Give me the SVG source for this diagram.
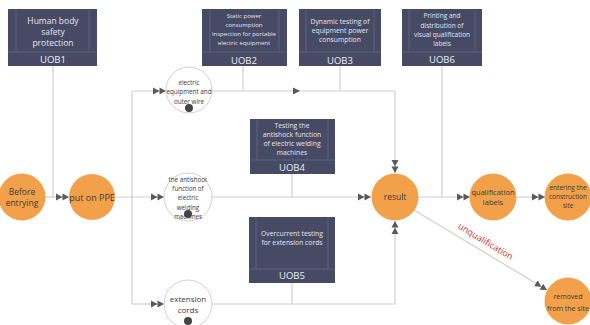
<svg xmlns="http://www.w3.org/2000/svg" width="590" height="325" viewBox="0 0 590 325">
<defs>
<style>
.box{fill:#474a65;}
.inner{stroke:#5d6180;stroke-width:1;fill:none;}
.btxt{font-family:"Open Sans",sans-serif;fill:#e4e5ee;text-anchor:middle;}
.lbl{font-family:"Open Sans",sans-serif;fill:#eceef5;font-size:9.5px;text-anchor:middle;}
.ln{stroke:#cfcfcf;stroke-width:1.2;fill:none;}
.org{fill:#f2a14a;}
.wc{fill:#fff;stroke:#cfcfcf;stroke-width:1;}
.ctxt{font-family:"Open Sans",sans-serif;fill:#3a3a3a;text-anchor:middle;}
.dot{fill:#444;}
</style>
<marker id="dbl" markerUnits="userSpaceOnUse" viewBox="0 0 13 8" refX="13" refY="4" markerWidth="13" markerHeight="8" orient="auto">
<path d="M0,0.5 L6.5,4 L0,7.5 Z M6.5,0.5 L13,4 L6.5,7.5 Z" fill="#5a5a5a"/>
</marker>
</defs>

<g id="connectors">
<path class="ln" d="M53,66 V197"/>
<path class="ln" d="M45,197 H69" marker-end="url(#dbl)"/>
<path class="ln" d="M115,197 H164" marker-end="url(#dbl)"/>
<path class="ln" d="M132,91 V304"/>
<path class="ln" d="M132,91 H166" marker-end="url(#dbl)"/>
<path class="ln" d="M132,304 H164" marker-end="url(#dbl)"/>
<path class="ln" d="M212,91 H395 V173" marker-end="url(#dbl)"/>
<polygon points="293,87.5 300,91 293,94.5" fill="#5a5a5a"/>
<path class="ln" d="M243,66 V91"/>
<path class="ln" d="M340,66 V91"/>
<path class="ln" d="M212,197 H371" marker-end="url(#dbl)"/>
<path class="ln" d="M292,174 V197"/>
<path class="ln" d="M212,304 H395 V221" marker-end="url(#dbl)"/>
<path class="ln" d="M292,283 V304"/>
<path class="ln" d="M418,197 H470" marker-end="url(#dbl)"/>
<path class="ln" d="M442,66 V197"/>
<path class="ln" d="M517,197 H545" marker-end="url(#dbl)"/>
<path class="ln" d="M414,210 L547,290" marker-end="url(#dbl)"/>
<text x="484" y="244" transform="rotate(31 484 244)" font-family="Open Sans, sans-serif" font-size="9" fill="#d42a30" text-anchor="middle">unqualification</text>
</g>

<g id="UOB1">
<rect class="box" x="8" y="9" width="89" height="57"/>
<path class="inner" d="M16,9 V52 M89,9 V52"/>
<path d="M8,52 H97" stroke="#5d6180"/>
<text class="btxt" font-size="8.5" x="53" y="24">Human body</text>
<text class="btxt" font-size="8.5" x="53" y="35">safety</text>
<text class="btxt" font-size="8.5" x="53" y="46">protection</text>
<text class="lbl" x="53" y="63">UOB1</text>
</g>

<g id="UOB2">
<rect class="box" x="202" y="9" width="85" height="57"/>
<path class="inner" d="M210,9 V52 M279,9 V52"/>
<path d="M202,52 H287" stroke="#5d6180"/>
<text class="btxt" font-size="6" x="244" y="18">Static power</text>
<text class="btxt" font-size="6" x="244" y="27">consumption</text>
<text class="btxt" font-size="6" x="244" y="36">inspection for portable</text>
<text class="btxt" font-size="6" x="244" y="45">electric equipment</text>
<text class="lbl" x="244" y="64">UOB2</text>
</g>

<g id="UOB3">
<rect class="box" x="299" y="9" width="82" height="57"/>
<path class="inner" d="M306,9 V52 M374,9 V52"/>
<path d="M299,52 H381" stroke="#5d6180"/>
<text class="btxt" font-size="6.8" x="340" y="24">Dynamic testing of</text>
<text class="btxt" font-size="6.8" x="340" y="33">equipment power</text>
<text class="btxt" font-size="6.8" x="340" y="42">consumption</text>
<text class="lbl" x="340" y="64">UOB3</text>
</g>

<g id="UOB6">
<rect class="box" x="402" y="9" width="80" height="57"/>
<path class="inner" d="M409,9 V52 M475,9 V52"/>
<path d="M402,52 H482" stroke="#5d6180"/>
<text class="btxt" font-size="6.5" x="442" y="18">Printing and</text>
<text class="btxt" font-size="6.5" x="442" y="28">distribution of</text>
<text class="btxt" font-size="6.5" x="442" y="37">visual qualification</text>
<text class="btxt" font-size="6.5" x="442" y="46">labels</text>
<text class="lbl" x="442" y="63">UOB6</text>
</g>

<g id="UOB4">
<rect class="box" x="250" y="119" width="85" height="55"/>
<path class="inner" d="M257,119 V160 M328,119 V160"/>
<path d="M250,160 H335" stroke="#5d6180"/>
<text class="btxt" font-size="6.8" x="292" y="128">Testing the</text>
<text class="btxt" font-size="6.8" x="292" y="137">antishock function</text>
<text class="btxt" font-size="6.8" x="292" y="146">of electric welding</text>
<text class="btxt" font-size="6.8" x="292" y="155">machines</text>
<text class="lbl" x="292" y="171">UOB4</text>
</g>

<g id="UOB5">
<rect class="box" x="249" y="217" width="86" height="66"/>
<path class="inner" d="M256,217 V269 M328,217 V269"/>
<path d="M249,269 H335" stroke="#5d6180"/>
<text class="btxt" font-size="6.8" x="292" y="236">Overcurrent testing</text>
<text class="btxt" font-size="6.8" x="292" y="245">for extension cords</text>
<text class="lbl" x="292" y="279">UOB5</text>
</g>

<g id="before">
<circle class="org" cx="22" cy="197" r="23.5"/>
<text class="ctxt" font-size="8.5" x="22" y="195">Before</text>
<text class="ctxt" font-size="8.5" x="22" y="206">entrying</text>
</g>

<g id="ppe">
<circle class="org" cx="92" cy="197" r="23"/>
<text class="ctxt" font-size="9" x="92" y="201">put on PPE</text>
</g>

<g id="electric">
<circle class="wc" cx="189" cy="90" r="23"/>
<text class="ctxt" font-size="6.3" x="189" y="85">electric</text>
<text class="ctxt" font-size="6.3" x="189" y="94">equipment and</text>
<text class="ctxt" font-size="6.3" x="189" y="104">outer wire</text>
<circle class="dot" cx="189" cy="108" r="4"/>
</g>

<g id="antishock">
<circle class="wc" cx="188" cy="197" r="24"/>
<text class="ctxt" font-size="6.2" x="188" y="182">the antishock</text>
<text class="ctxt" font-size="6.2" x="188" y="191">function of</text>
<text class="ctxt" font-size="6.2" x="188" y="200">electric</text>
<text class="ctxt" font-size="6.2" x="188" y="210">welding</text>
<text class="ctxt" font-size="6.2" x="188" y="219">machines</text>
<circle class="dot" cx="188" cy="214" r="4"/>
</g>

<g id="extension">
<circle class="wc" cx="188" cy="304" r="24"/>
<text class="ctxt" font-size="8" x="188" y="302">extension</text>
<text class="ctxt" font-size="8" x="188" y="313">cords</text>
<circle class="dot" cx="188" cy="321" r="4"/>
</g>

<g id="result">
<circle class="org" cx="395" cy="197" r="23.5"/>
<text class="ctxt" font-size="8.5" x="395" y="200">result</text>
</g>

<g id="qualification">
<circle class="org" cx="493" cy="197" r="23.5"/>
<text class="ctxt" font-size="7.5" x="493" y="195">qualification</text>
<text class="ctxt" font-size="7.5" x="493" y="205">labels</text>
</g>

<g id="entering">
<circle class="org" cx="568" cy="197" r="23.5"/>
<text class="ctxt" font-size="6.5" x="568" y="190">entering the</text>
<text class="ctxt" font-size="6.5" x="568" y="199">construction</text>
<text class="ctxt" font-size="6.5" x="568" y="208">site</text>
</g>

<g id="removed">
<circle class="org" cx="568" cy="301" r="23.5"/>
<text class="ctxt" font-size="7" x="568" y="299">removed</text>
<text class="ctxt" font-size="7" x="568" y="311">from the site</text>
</g>
</svg>
